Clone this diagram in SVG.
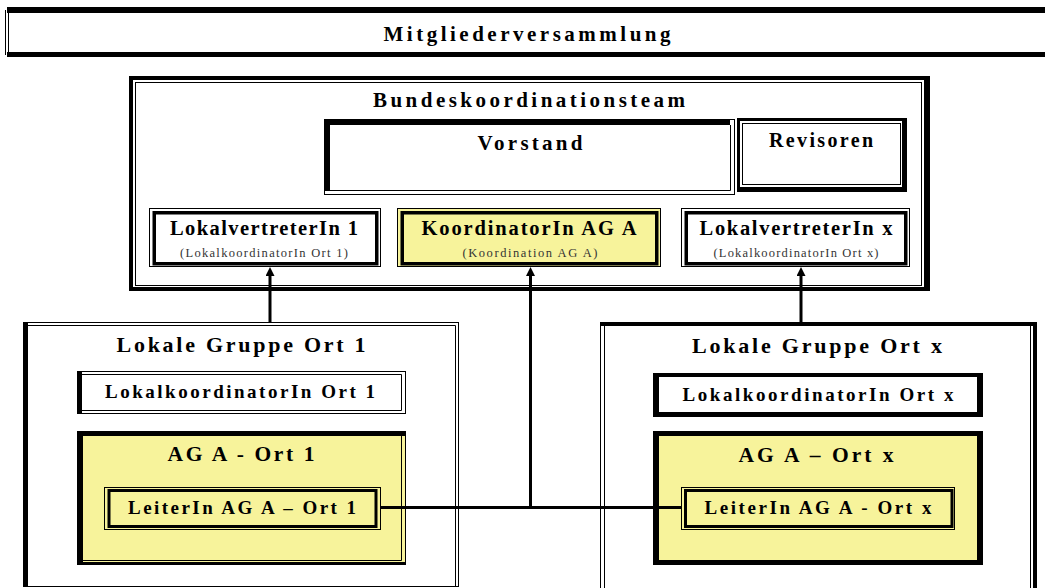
<svg xmlns="http://www.w3.org/2000/svg" width="1045" height="588" viewBox="0 0 1045 588">
<defs>
<style>
.t{font-family:"Liberation Serif","Times New Roman",serif;font-weight:bold;fill:#000;text-anchor:middle}
.s{font-family:"Liberation Serif","Times New Roman",serif;font-weight:normal;font-size:12.5px;fill:#333;text-anchor:middle}
.thin{fill:none;stroke:#000;stroke-width:1}
.blk{fill:#000}
.wh{fill:#fff}
.yl{fill:#f7f39b}
.conn{fill:none;stroke:#000;stroke-width:3}
</style>
<marker id="ah" viewBox="0 0 10 10" refX="0" refY="5" markerWidth="9" markerHeight="9" markerUnits="userSpaceOnUse" orient="auto">
<path d="M0,0 L10,5 L0,10 z" fill="#000"/>
</marker>
</defs>
<rect width="1045" height="588" fill="#fff"/>

<g id="mitgliederversammlung">
<rect class="wh" x="4" y="7" width="1045" height="50"/>
<rect class="blk" x="7" y="7" width="1040" height="6"/>
<rect class="blk" x="7" y="52" width="1040" height="5"/>
<line x1="5.5" y1="10" x2="5.5" y2="55" class="thin"/>
<line x1="8.5" y1="13" x2="8.5" y2="52" class="thin"/>
<text class="t" x="527" y="41" font-size="21" textLength="287" lengthAdjust="spacing">Mitgliederversammlung</text>
</g>

<g id="bundeskoordinationsteam">
<rect x="131" y="78" width="797" height="211" fill="#fff" stroke="#000" stroke-width="4"/>
<rect class="blk" x="924" y="78" width="6" height="213"/>
<rect class="thin" x="135.5" y="82.5" width="786" height="203"/>
<text class="t" x="529" y="107" font-size="21" textLength="312" lengthAdjust="spacing">Bundeskoordinationsteam</text>
</g>

<g id="vorstand">
<rect x="324.5" y="119.5" width="410" height="75" fill="#fff" stroke="#000" stroke-width="1"/>
<path class="blk" d="M325,120 H730 V125 H330 V191 H325 Z"/>
<path class="thin" d="M730.5,125 V190.5 H330"/>
<text class="t" x="530" y="150" font-size="21" textLength="105" lengthAdjust="spacing">Vorstand</text>
</g>

<g id="revisoren">
<rect class="blk" x="737" y="118" width="170" height="74"/>
<rect class="wh" x="740" y="121" width="162" height="66"/>
<rect class="thin" x="742.5" y="123.5" width="158" height="61"/>
<text class="t" x="821" y="147" font-size="20" textLength="104" lengthAdjust="spacing">Revisoren</text>
</g>

<g id="lokalvertreterin-1">
<rect x="149.5" y="208.5" width="231" height="58" fill="#fff" stroke="#000" stroke-width="1"/>
<rect x="154.25" y="212.75" width="222.5" height="51" fill="none" stroke="#000" stroke-width="3.5"/>
<text class="t" x="264" y="235" font-size="20.5" textLength="188" lengthAdjust="spacing">LokalvertreterIn 1</text>
<text class="s" x="264" y="257" textLength="168" lengthAdjust="spacing">(LokalkoordinatorIn Ort 1)</text>
</g>

<g id="koordinatorin-ag-a">
<rect x="397.5" y="208.5" width="263" height="58" fill="#f7f39b" stroke="#000" stroke-width="1"/>
<rect x="402.25" y="212.75" width="254.5" height="51" fill="none" stroke="#000" stroke-width="3.5"/>
<text class="t" x="529" y="235" font-size="20.5" textLength="215" lengthAdjust="spacing">KoordinatorIn AG A</text>
<text class="s" x="530" y="257" textLength="135" lengthAdjust="spacing">(Koordination AG A)</text>
</g>

<g id="lokalvertreterin-x">
<rect x="681.5" y="208.5" width="228" height="58" fill="#fff" stroke="#000" stroke-width="1"/>
<rect x="686.25" y="212.75" width="219.5" height="51" fill="none" stroke="#000" stroke-width="3.5"/>
<text class="t" x="796" y="235" font-size="20.5" textLength="193" lengthAdjust="spacing">LokalvertreterIn x</text>
<text class="s" x="796" y="257" textLength="165" lengthAdjust="spacing">(LokalkoordinatorIn Ort x)</text>
</g>

<g id="lokale-gruppe-ort-1">
<rect class="wh" x="23" y="322" width="436" height="270"/>
<rect class="thin" x="23.5" y="322.5" width="435" height="264"/>
<path class="thin" d="M28,325.5 H455.5 V586"/>
<rect class="blk" x="23" y="322" width="5" height="265"/>
<text class="t" x="241" y="352" font-size="22" textLength="249" lengthAdjust="spacing">Lokale Gruppe Ort 1</text>
</g>

<g id="lokalkoordinatorin-ort-1">
<rect x="77.5" y="371.5" width="328" height="42" fill="#fff" stroke="#000" stroke-width="1"/>
<rect class="blk" x="77" y="371" width="5" height="43"/>
<path class="thin" d="M82,374.5 H401.5 V410.5 H82"/>
<text class="t" x="240" y="398" font-size="19" textLength="270" lengthAdjust="spacing">LokalkoordinatorIn Ort 1</text>
</g>

<g id="ag-a-ort-1">
<rect x="77.5" y="431.5" width="328" height="133" fill="#f7f39b" stroke="#000" stroke-width="1"/>
<rect class="blk" x="77" y="431" width="329" height="5"/>
<rect class="blk" x="77" y="431" width="6" height="134"/>
<rect class="blk" x="77" y="562" width="329" height="3"/>
<path class="thin" d="M401.5,436 V560.5 H83"/>
<text class="t" x="241" y="461" font-size="21.5" textLength="147" lengthAdjust="spacing">AG A - Ort 1</text>
</g>

<g id="leiterin-ag-a-ort-1">
<rect x="104.5" y="487.5" width="276" height="42" fill="#f7f39b" stroke="#000" stroke-width="1"/>
<rect x="109" y="490.5" width="267" height="36" fill="none" stroke="#000" stroke-width="3"/>
<text class="t" x="242" y="514" font-size="19" textLength="228" lengthAdjust="spacing">LeiterIn AG A – Ort 1</text>
</g>

<g id="lokale-gruppe-ort-x">
<rect class="wh" x="600" y="322" width="437" height="270"/>
<rect class="blk" x="600" y="322" width="437" height="4"/>
<line class="thin" x1="600.5" y1="322" x2="600.5" y2="588"/>
<line class="thin" x1="604.5" y1="326" x2="604.5" y2="588"/>
<line class="thin" x1="1030.5" y1="326" x2="1030.5" y2="588"/>
<rect class="blk" x="1033" y="322" width="4" height="266"/>
<text class="t" x="817" y="353" font-size="22" textLength="250" lengthAdjust="spacing">Lokale Gruppe Ort x</text>
</g>

<g id="lokalkoordinatorin-ort-x">
<rect class="blk" x="653" y="373" width="330" height="44"/>
<rect class="wh" x="659" y="377" width="318" height="35"/>
<text class="t" x="818" y="401" font-size="19" textLength="271" lengthAdjust="spacing">LokalkoordinatorIn Ort x</text>
</g>

<g id="ag-a-ort-x">
<rect class="blk" x="653" y="431" width="330" height="134"/>
<rect class="yl" x="659" y="436" width="318" height="124"/>
<text class="t" x="816" y="462" font-size="21.5" textLength="155" lengthAdjust="spacing">AG A – Ort x</text>
</g>

<g id="leiterin-ag-a-ort-x">
<rect x="681.5" y="487.5" width="273" height="42" fill="#f7f39b" stroke="#000" stroke-width="1"/>
<rect x="685.5" y="490.5" width="266.5" height="36" fill="none" stroke="#000" stroke-width="3"/>
<text class="t" x="818" y="514" font-size="19" textLength="227" lengthAdjust="spacing">LeiterIn AG A - Ort x</text>
</g>

<g id="connectors">
<line class="conn" x1="270" y1="322" x2="270" y2="276" marker-end="url(#ah)"/>
<line class="conn" x1="801" y1="322" x2="801" y2="276" marker-end="url(#ah)"/>
<line class="conn" x1="530.5" y1="509" x2="530.5" y2="276" marker-end="url(#ah)"/>
<line class="conn" x1="381" y1="507.5" x2="681" y2="507.5"/>
</g>
</svg>
